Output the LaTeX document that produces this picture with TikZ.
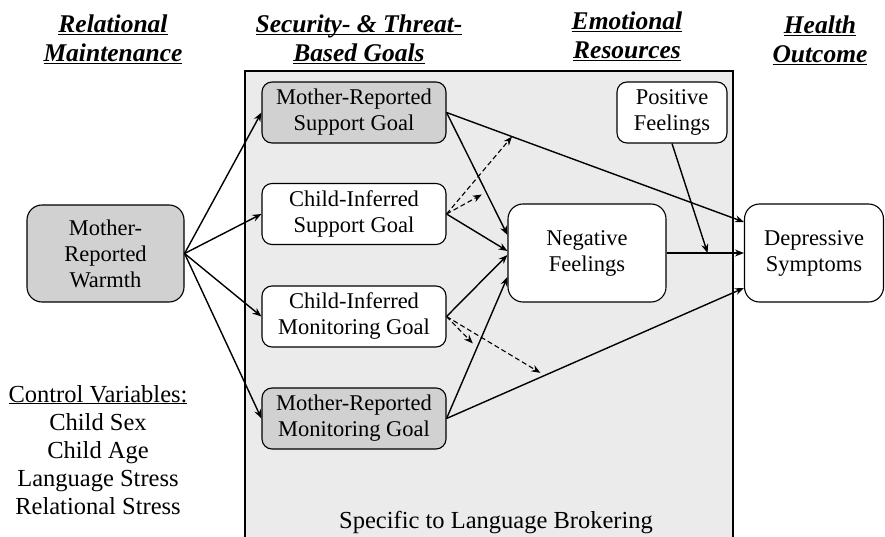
\documentclass[tikz,border=0pt]{standalone}
\usepackage{fontspec}
\setmainfont{Liberation Serif}
\usetikzlibrary{positioning,calc,arrows.meta}
\tikzset{>={Stealth[length=9pt,width=7pt]}}
\definecolor{boxgray}{gray}{0.82}
\definecolor{bggray}{gray}{0.92}
\newcommand{\hdline}[1]{\underline{\raisebox{0pt}[\height][0pt]{#1}}}
\tikzset{
  box/.style={draw,line width=1.1pt,rounded corners=10pt,fill=white,align=center,
    minimum width=184pt,minimum height=61pt,inner sep=0pt,font=\fontsize{22.5}{26}\selectfont},
  graybox/.style={box,fill=boxgray},
  bigbox/.style={box,rounded corners=15pt,minimum height=98pt},
  hdr/.style={anchor=north,align=center,inner sep=0pt,font=\fontsize{25.5}{29}\selectfont\bfseries\itshape},
  arr/.style={->,line width=1.4pt},
  dasharr/.style={->,line width=1.1pt,dash pattern=on 5pt off 3pt}
}

\begin{document}
\begin{tikzpicture}[x=1pt,y=-1pt]
\useasboundingbox (0,0) rectangle (885,537);
\fill[bggray] (245,71) rectangle (733,537);
\draw[line width=1.2pt] (245,537) -- (245,71) -- (733,71) -- (733,537);

\node[hdr] (hrel) at (113,15) {\hdline{Relational}\\\hdline{Maintenance}};
\node[hdr] (hgoal) at (359,15) {\hdline{Security- \& Threat-}\\\hdline{Based Goals}};
\node[hdr] (hemo) at (627,12) {\hdline{Emotional}\\\hdline{Resources}};
\node[hdr] (hout) at (820,16) {\hdline{Health}\\\hdline{Outcome}};

\node[graybox,rounded corners=15pt,minimum width=157pt,minimum height=97pt] (warm) at (105.5,253.5) {Mother-\\Reported\\Warmth};
\node[graybox] (msup) at (354,112.5) {Mother-Reported\\Support Goal};
\node[box] (csup) at (354,214) {Child-Inferred\\Support Goal};
\node[box] (cmon) at (354,316.5) {Child-Inferred\\Monitoring Goal};
\node[graybox] (mmon) at (354,418.5) {Mother-Reported\\Monitoring Goal};
\node[bigbox,minimum width=158pt] (neg) at (587,253) {Negative\\Feelings};
\node[box,minimum width=110pt] (pos) at (672,112.5) {Positive\\Feelings};
\node[bigbox,minimum width=139pt] (dep) at (814,253) {Depressive\\Symptoms};

\node[anchor=north,align=center,inner sep=0pt,font=\fontsize{24.5}{28}\selectfont] (ctrl) at (98,385)
  {\hdline{Control Variables:}\\Child Sex\\Child Age\\Language Stress\\Relational Stress};
\node[anchor=base,inner sep=0pt,font=\fontsize{24.5}{28}\selectfont] (spec) at (496,528) {Specific to Language Brokering};

\coordinate (n1) at ([yshift=18pt]neg.west);
\coordinate (n2) at ([yshift=2pt]neg.west);
\coordinate (n3) at ([yshift=-2pt]neg.west);
\coordinate (n4) at ([yshift=-24pt]neg.west);
\coordinate (d1) at ([yshift=31pt]dep.west);
\coordinate (d2) at ([yshift=-35pt]dep.west);
\coordinate (mid) at ($(neg.east)!0.53!(dep.west)$);

\foreach \g in {msup,csup,cmon,mmon}
  \draw[arr] (warm.east) -- (\g.west);
\draw[arr] (msup.east) -- (n1);
\draw[arr] (csup.east) -- (n2);
\draw[arr] (cmon.east) -- (n3);
\draw[arr] (mmon.east) -- (n4);
\draw[arr] (msup.east) -- (d1);
\draw[arr] (mmon.east) -- (d2);
\draw[arr] (neg.east) -- (dep.west);
\draw[arr] (pos.south) -- (mid);

\draw[dasharr] (csup.east) -- ($(msup.east)!0.22!(d1)$);
\draw[dasharr,shorten >=5pt] (csup.east) -- ($(msup.east)!0.65!(n1)$);
\draw[dasharr,shorten >=6pt] (cmon.east) -- ($(mmon.east)!0.5!(n4)$);
\draw[dasharr,shorten >=5pt] (cmon.east) -- ($(mmon.east)!0.33!(d2)$);
\end{tikzpicture}
\end{document}
